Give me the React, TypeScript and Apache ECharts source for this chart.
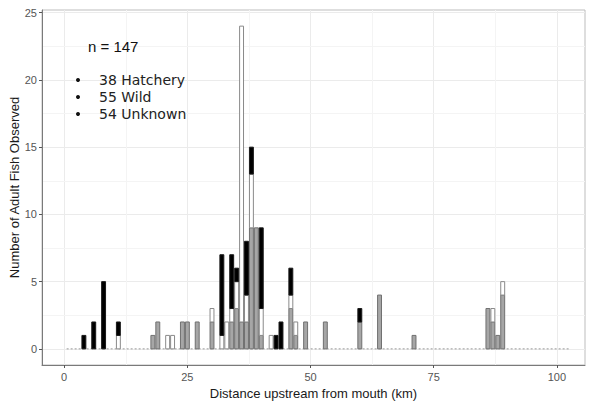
import React, { useEffect, useRef } from "react";
import * as echarts from "echarts";

// distance bins (km, 1-km bins centred on integer)
const distances = [4, 6, 8, 11, 18, 19, 21, 22, 24, 25, 27, 30, 32, 33, 34, 35, 36, 37, 38, 39, 40, 42, 43, 44, 46, 47, 49, 53, 60, 64, 71, 86, 87, 88, 89];
const wild =      [0, 0, 0, 0, 1, 2, 0, 0, 2, 2, 2, 2, 0, 0, 2, 3, 2, 2, 9, 9, 1, 0, 0, 0, 3, 1, 2, 2, 2, 4, 1, 3, 2, 1, 4];
const unknown =   [0, 0, 0, 1, 0, 0, 1, 1, 0, 0, 0, 1, 1, 2, 1, 2, 22, 2, 4, 0, 2, 1, 0, 0, 1, 1, 0, 0, 0, 0, 0, 0, 1, 0, 1];
const hatchery =  [1, 2, 5, 1, 0, 0, 0, 0, 0, 0, 0, 0, 6, 0, 4, 1, 0, 4, 2, 0, 6, 0, 1, 2, 2, 0, 0, 0, 1, 0, 0, 0, 0, 0, 0];

const yTicks = [0, 5, 10, 15, 20, 25];
const xTicks = [0, 25, 50, 75, 100];
const yMinor = [2.5, 7.5, 12.5, 17.5, 22.5];
const xMinor = [12.5, 37.5, 62.5, 87.5];
const summaryTitle = "n = 147";
const summaryLines = ["38 Hatchery", "55 Wild", "54 Unknown"];

const FONT = "'Liberation Sans', Arial, sans-serif";

function stackData(layer: number) {
  const layers = [wild, unknown, hatchery];
  return distances.map((d, i) => {
    let base = 0;
    for (let k = 0; k < layer; k++) base += layers[k][i];
    return [d, base, base + layers[layer][i]];
  });
}

function makeSeries(name: string, layer: number, fill: string, stroke: string) {
  return {
    type: "custom",
    name,
    silent: true,
    z: 5,
    data: stackData(layer),
    encode: { x: 0, y: [1, 2] },
    renderItem: (params: any, api: any) => {
      const x = api.value(0);
      const y0 = api.value(1);
      const y1 = api.value(2);
      if (y1 <= y0) return null;
      const p0 = api.coord([x - 0.5, y1]);
      const p1 = api.coord([x + 0.5, y0]);
      return {
        type: "rect",
        shape: { x: p0[0] + 0.5, y: p0[1], width: p1[0] - p0[0] - 1, height: p1[1] - p0[1] },
        style: { fill, stroke, lineWidth: 1 },
      };
    },
  };
}

export default function App() {
  const ref = useRef<HTMLDivElement>(null);
  useEffect(() => {
    if (!ref.current) return;
    const chart = echarts.init(ref.current, undefined, { renderer: "svg" });
    chart.setOption({
      animation: false,
      backgroundColor: "#ffffff",
      grid: {
        left: 42, right: 4, top: 10, bottom: 39,
        outerBoundsMode: "none",
        containLabel: false,
        show: true, borderColor: "#bdbdbd", borderWidth: 1, backgroundColor: "transparent",
      },
      xAxis: {
        type: "value",
        min: -4.5,
        max: 105.7,
        name: "Distance upstream from mouth (km)",
        nameLocation: "middle",
        nameGap: 22,
        nameMoveOverlap: false,
        nameTextStyle: { color: "#1a1a1a", fontSize: 13, fontFamily: FONT },
        axisLine: { show: true, onZero: false, lineStyle: { color: "#7a7a7a", width: 1 } },
        axisTick: { show: true, length: 3, customValues: xTicks, lineStyle: { color: "#555" } },
        axisLabel: { customValues: xTicks, color: "#555555", fontSize: 11, fontFamily: FONT, margin: 6 },
        splitLine: { show: true, lineStyle: { color: "#ebebeb", width: 1 } },
      },
      yAxis: {
        type: "value",
        min: -1.2,
        max: 25.2,
        name: "Number of Adult Fish Observed",
        nameLocation: "middle",
        nameGap: 21,
        nameMoveOverlap: false,
        nameTextStyle: { color: "#1a1a1a", fontSize: 13, fontFamily: FONT },
        axisLine: { show: true, onZero: false, lineStyle: { color: "#7a7a7a", width: 1 } },
        axisTick: { show: true, length: 3, customValues: yTicks, lineStyle: { color: "#555" } },
        axisLabel: { customValues: yTicks, color: "#555555", fontSize: 11, fontFamily: FONT, margin: 5 },
        splitLine: { show: true, lineStyle: { color: "#ebebeb", width: 1 } },
      },
      series: [
        {
          type: "line",
          silent: true,
          symbol: "none",
          data: [[0.5, 0], [102.5, 0]],
          lineStyle: { color: "#9a9a9a", width: 1, type: [2, 2] },
          z: 1,
          markLine: {
            silent: true,
            symbol: "none",
            z: 0,
            label: { show: false },
            lineStyle: { color: "#f4f4f4", width: 1, type: "solid" },
            data: [
              ...yMinor.map((v) => ({ yAxis: v })),
              ...xMinor.map((v) => ({ xAxis: v })),
            ],
          },
        },
        makeSeries("Wild", 0, "#a6a6a6", "#707070"),
        makeSeries("Unknown", 1, "#ffffff", "#8a8a8a"),
        makeSeries("Hatchery", 2, "#000000", "#1a1a1a"),
      ],
      graphic: [
        { type: "text", z: 100, left: 88, top: 39, style: { text: summaryTitle, fontSize: 15, fontFamily: FONT, fill: "#111" } },
        ...summaryLines.flatMap((t, i) => [
          { type: "circle", z: 100, shape: { cx: 78, cy: 80 + i * 17, r: 2 }, style: { fill: "#111" } },
          { type: "text", z: 100, left: 99, top: 72 + i * 17, style: { text: t, fontSize: 14, lineHeight: 16, fontFamily: "'DejaVu Sans', sans-serif", fill: "#222" } },
        ]),
      ],
    });
    return () => chart.dispose();
  }, []);
  return <div ref={ref} style={{ width: 589, height: 404, position: "absolute", left: 0, top: 0 }} />;
}
